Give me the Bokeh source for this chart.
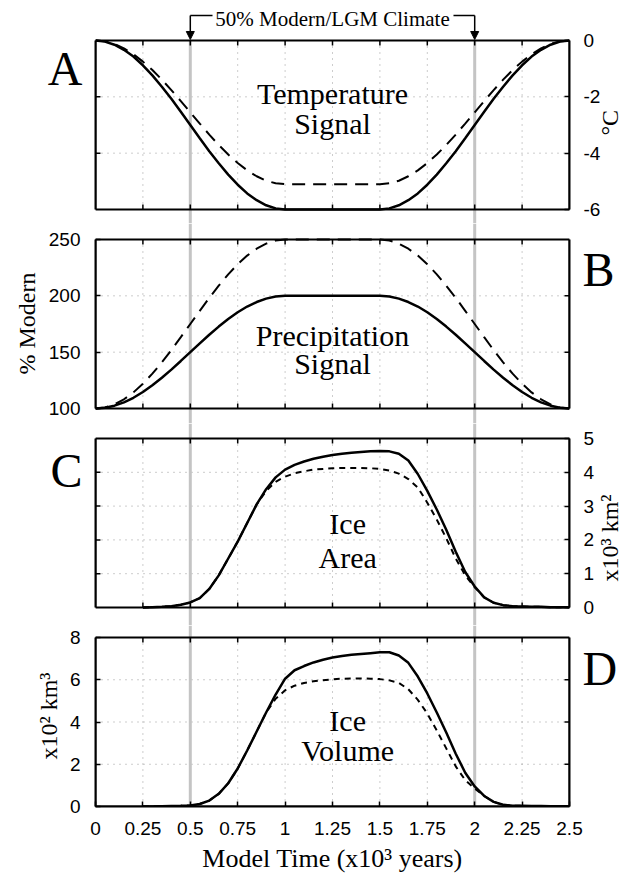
import math
from bokeh.plotting import figure
from bokeh.layouts import column
from bokeh.models import Range1d, LinearAxis, FixedTicker, Arrow, NormalHead
from bokeh.core.properties import value
from bokeh.embed import file_html
from bokeh.resources import INLINE

# ---------------- data ----------------
t_sig = [0.00, 0.05, 0.10, 0.15, 0.20, 0.25, 0.30, 0.35, 0.40, 0.45, 0.50,
         0.55, 0.60, 0.65, 0.70, 0.75, 0.80, 0.85, 0.90, 0.95, 1.00,
         1.05, 1.10, 1.15, 1.20, 1.25, 1.30, 1.35, 1.40, 1.45,
         1.50, 1.55, 1.60, 1.65, 1.70, 1.75, 1.80, 1.85, 1.90, 1.95, 2.00,
         2.05, 2.10, 2.15, 2.20, 2.25, 2.30, 2.35, 2.40, 2.45, 2.50]

temp_solid = [0.00, -0.04, -0.15, -0.33, -0.57, -0.88, -1.24, -1.64, -2.07, -2.53, -3.00,
              -3.47, -3.93, -4.36, -4.76, -5.12, -5.43, -5.67, -5.85, -5.96, -6.00,
              -6.00, -6.00, -6.00, -6.00, -6.00, -6.00, -6.00, -6.00, -6.00,
              -6.00, -5.96, -5.85, -5.67, -5.43, -5.12, -4.76, -4.36, -3.93, -3.47, -3.00,
              -2.53, -2.07, -1.64, -1.24, -0.88, -0.57, -0.33, -0.15, -0.04, 0.00]
temp_dashed = [0.00, -0.03, -0.12, -0.28, -0.49, -0.75, -1.05, -1.39, -1.76, -2.15, -2.55,
               -2.95, -3.34, -3.71, -4.05, -4.35, -4.61, -4.82, -4.98, -5.07, -5.10,
               -5.10, -5.10, -5.10, -5.10, -5.10, -5.10, -5.10, -5.10, -5.10,
               -5.10, -5.07, -4.98, -4.82, -4.61, -4.35, -4.05, -3.71, -3.34, -2.95, -2.55,
               -2.15, -1.76, -1.39, -1.05, -0.75, -0.49, -0.28, -0.12, -0.03, 0.00]
precip_solid = [100.0, 100.6, 102.5, 105.5, 109.5, 114.6, 120.6, 127.3, 134.5, 142.2, 150.0,
                157.8, 165.5, 172.7, 179.4, 185.4, 190.5, 194.5, 197.5, 199.4, 200.0,
                200.0, 200.0, 200.0, 200.0, 200.0, 200.0, 200.0, 200.0, 200.0,
                200.0, 199.4, 197.5, 194.5, 190.5, 185.4, 179.4, 172.7, 165.5, 157.8, 150.0,
                142.2, 134.5, 127.3, 120.6, 114.6, 109.5, 105.5, 102.5, 100.6, 100.0]
precip_dashed = [100.0, 100.9, 103.7, 108.2, 114.3, 122.0, 130.9, 141.0, 151.8, 163.3, 175.0,
                 186.7, 198.2, 209.0, 219.1, 228.0, 235.7, 241.8, 246.3, 249.1, 250.0,
                 250.0, 250.0, 250.0, 250.0, 250.0, 250.0, 250.0, 250.0, 250.0,
                 250.0, 249.1, 246.3, 241.8, 235.7, 228.0, 219.1, 209.0, 198.2, 186.7, 175.0,
                 163.3, 151.8, 141.0, 130.9, 122.0, 114.3, 108.2, 103.7, 100.9, 100.0]

t_ice = [0.25, 0.30, 0.35, 0.40, 0.45, 0.50, 0.55, 0.60, 0.65, 0.70, 0.75, 0.80, 0.85,
         0.90, 0.95, 1.00, 1.05, 1.10, 1.15, 1.20, 1.25, 1.30, 1.35, 1.40, 1.45, 1.50,
         1.55, 1.60, 1.65, 1.70, 1.75, 1.80, 1.85, 1.90, 1.95, 2.00, 2.05, 2.10, 2.15,
         2.20, 2.25, 2.30, 2.35, 2.40, 2.45, 2.50]
area_solid = [0.00, 0.01, 0.02, 0.04, 0.08, 0.15, 0.28, 0.55, 0.95, 1.45, 1.95, 2.50, 3.05,
              3.50, 3.85, 4.08, 4.22, 4.32, 4.40, 4.46, 4.51, 4.55, 4.58, 4.60, 4.62, 4.63,
              4.62, 4.55, 4.35, 3.95, 3.45, 2.90, 2.30, 1.65, 1.05, 0.62, 0.30, 0.14, 0.07,
              0.04, 0.03, 0.02, 0.02, 0.01, 0.01, 0.01]
area_dashed = [0.00, 0.01, 0.02, 0.04, 0.08, 0.15, 0.28, 0.55, 0.95, 1.45, 1.95, 2.50, 3.05,
               3.45, 3.72, 3.87, 3.97, 4.03, 4.08, 4.10, 4.12, 4.13, 4.13, 4.13, 4.12, 4.10,
               4.05, 3.96, 3.80, 3.55, 3.10, 2.60, 2.05, 1.45, 0.95, 0.60, 0.30, 0.14, 0.07,
               0.04, 0.03, 0.02, 0.02, 0.01, 0.01, 0.01]
vol_solid = [0.00, 0.00, 0.01, 0.02, 0.03, 0.05, 0.12, 0.28, 0.60, 1.10, 1.80, 2.65, 3.55,
             4.45, 5.30, 6.05, 6.45, 6.65, 6.82, 6.95, 7.05, 7.12, 7.18, 7.22, 7.26, 7.30,
             7.30, 7.15, 6.80, 6.15, 5.35, 4.45, 3.50, 2.50, 1.60, 0.95, 0.50, 0.22, 0.08,
             0.04, 0.03, 0.02, 0.02, 0.01, 0.01, 0.01]
vol_dashed = [0.00, 0.00, 0.01, 0.02, 0.03, 0.05, 0.12, 0.28, 0.60, 1.10, 1.80, 2.65, 3.55,
              4.45, 5.10, 5.50, 5.72, 5.85, 5.93, 5.98, 6.02, 6.05, 6.06, 6.06, 6.05, 6.03,
              5.97, 5.85, 5.55, 5.05, 4.40, 3.60, 2.75, 1.90, 1.25, 0.85, 0.50, 0.22, 0.08,
              0.04, 0.03, 0.02, 0.02, 0.01, 0.01, 0.01]

x_ticks = [0, 0.25, 0.5, 0.75, 1.0, 1.25, 1.5, 1.75, 2.0, 2.25, 2.5]
x_tick_labels = ["0", "0.25", "0.5", "0.75", "1", "1.25", "1.5", "1.75", "2", "2.25", "2.5"]

temp_ticks = [-6, -4, -2, 0]
temp_tick_labels = ["-6", "-4", "-2", "0"]
precip_ticks = [100, 150, 200, 250]
precip_tick_labels = ["100", "150", "200", "250"]
area_ticks = [0, 1, 2, 3, 4, 5]
area_tick_labels = ["0", "1", "2", "3", "4", "5"]
vol_ticks = [0, 2, 4, 6, 8]
vol_tick_labels = ["0", "2", "4", "6", "8"]

climate_marks = [0.5, 2.0]
climate_text = "50% Modern/LGM Climate"

# ---------------- layout constants (page pixels) ----------------
W = 639
LEFT, RIGHT = 95, 66
FW = W - LEFT - RIGHT
SERIF = "Liberation Serif"
SANS = "Liberation Sans"
GRAY = "#c4c4c4"
TICK_FS = "19px"


def px_to_x(page_x):
    return (page_x - LEFT) / FW * 2.5


class Info:
    pass


def make_panel(fig_top, frame_bot, fig_bot, p_top, p_bot, lo, hi):
    k = (hi - lo) / (p_bot - p_top)
    start = lo - (frame_bot - p_bot) * k
    end = hi + (p_top - fig_top) * k
    p = figure(width=W, height=fig_bot - fig_top,
               x_range=Range1d(0, 2.5), y_range=Range1d(start, end),
               min_border_left=LEFT, min_border_right=RIGHT,
               min_border_top=0, min_border_bottom=fig_bot - frame_bot,
               x_axis_location=None, y_axis_location=None,
               toolbar_location=None, output_backend="svg",
               outline_line_color=None, background_fill_color="white",
               border_fill_color="white")
    p.grid.visible = False
    info = Info()
    info.k = k
    info.start = start
    info.end = end
    info.yv = lambda page_y: round(hi - (page_y - p_top) * k, 3)
    return p, info


def decorate(p, info, lo, hi, yticks, ylabels, label_side, ylab, ylab_standoff,
             letter, letter_y, xticks_bottom=True, gray_top=None, rot_label_y=None):
    k = info.k
    inner_x = x_ticks[1:-1]
    inner_y = yticks[1:-1]
    # dotted grid
    p.segment(x0=inner_x, y0=[lo] * len(inner_x), x1=inner_x, y1=[hi] * len(inner_x),
              line_color="#9a9a9a", line_width=1, line_dash="1 5")
    p.segment(x0=[0] * len(inner_y), y0=inner_y, x1=[2.5] * len(inner_y), y1=inner_y,
              line_color="#9a9a9a", line_width=1, line_dash="1 5")
    # gray 50% lines
    gtop = info.end if gray_top is None else gray_top
    p.segment(x0=climate_marks, y0=[info.start] * 2, x1=climate_marks, y1=[gtop] * 2,
              line_color=GRAY, line_width=3)
    # tick marks on top / bottom edges
    tl = 5 * k
    p.segment(x0=inner_x, y0=[hi] * len(inner_x), x1=inner_x, y1=[hi - tl] * len(inner_x),
              line_color="black", line_width=1.5)
    if xticks_bottom:
        p.segment(x0=inner_x, y0=[lo] * len(inner_x), x1=inner_x, y1=[lo + tl] * len(inner_x),
                  line_color="black", line_width=1.5)
    # tick marks on the side that carries the panel letter
    txl = 5 / FW * 2.5
    if label_side == "right":
        p.segment(x0=[0] * len(inner_y), y0=inner_y, x1=[txl] * len(inner_y), y1=inner_y,
                  line_color="black", line_width=1.5)
    else:
        p.segment(x0=[2.5] * len(inner_y), y0=inner_y, x1=[2.5 - txl] * len(inner_y),
                  y1=inner_y, line_color="black", line_width=1.5)
    # labelled y axis
    ax = LinearAxis(bounds=(lo, hi), ticker=FixedTicker(ticks=yticks),
                    major_label_overrides=dict(zip(yticks, ylabels)),
                    major_tick_in=5, major_tick_out=0, minor_tick_line_color=None,
                    axis_line_width=2, axis_line_color="black",
                    major_tick_line_width=1.5, major_tick_line_color="black",
                    major_label_standoff=14 if label_side == "right" else 15,
                    major_label_text_font=SANS, major_label_text_font_size=TICK_FS,
                    major_label_text_color="black")
    if rot_label_y is None:
        ax.axis_label = ylab
        ax.axis_label_text_font = SERIF
        ax.axis_label_text_font_style = "normal"
        ax.axis_label_text_font_size = "24px"
        ax.axis_label_text_color = "black"
        ax.axis_label_standoff = ylab_standoff
    p.add_layout(ax, label_side)
    if rot_label_y is not None:
        # axis title (reading bottom-to-top) drawn as the rotated label of a
        # second, line-less axis; the tick sits at the start of the text
        tax = LinearAxis(ticker=FixedTicker(ticks=[rot_label_y]),
                         major_label_overrides={rot_label_y: ylab},
                         major_label_orientation=math.pi / 2,
                         axis_line_color=None, major_tick_line_color=None,
                         minor_tick_line_color=None, major_tick_in=0, major_tick_out=0,
                         major_label_standoff=ylab_standoff,
                         major_label_text_font=SERIF, major_label_text_font_size="24px",
                         major_label_text_color="black")
        p.add_layout(tax, label_side)
    # opposite axis: frame side plus panel letter
    other = "left" if label_side == "right" else "right"
    lax = LinearAxis(bounds=(lo, hi), ticker=FixedTicker(ticks=[letter_y]),
                     major_label_overrides={letter_y: letter},
                     major_tick_in=0, major_tick_out=0, major_tick_line_color=None,
                     minor_tick_line_color=None,
                     axis_line_width=2, axis_line_color="black",
                     major_label_standoff=13,
                     major_label_text_font=SERIF, major_label_text_font_size="48px",
                     major_label_text_color="black")
    p.add_layout(lax, other)


def box(p, lo, hi):
    p.quad(left=0, right=2.5, bottom=lo, top=hi, fill_color=None,
           line_color="black", line_width=2)


def inner_text(p, x, ys, texts):
    p.text(x=[x] * len(texts), y=ys, text=texts, text_font=value(SERIF),
           text_font_size="30px", text_align="center", text_baseline="middle",
           text_color="black")


# ---------------- Panel A : temperature ----------------
pA, iA = make_panel(0, 223, 223, 40, 209, -6, 0)
decorate(pA, iA, -6, 0, temp_ticks, temp_tick_labels, "right", "°C", 7,
         "A", iA.yv(68), gray_top=0, rot_label_y=iA.yv(135))
pA.line(t_sig, temp_solid, line_color="black", line_width=2.5)
pA.line(t_sig, temp_dashed, line_color="black", line_width=2, line_dash="13 8")
box(pA, -6, 0)
inner_text(pA, 1.25, [iA.yv(93), iA.yv(123)], ["Temperature", "Signal"])
# bracket annotation
yb = iA.yv(15)
ytip = iA.yv(39)
pA.segment(x0=[climate_marks[0], px_to_x(456)], y0=[yb, yb],
           x1=[px_to_x(213), climate_marks[1]], y1=[yb, yb],
           line_color="black", line_width=1.5)
for m in climate_marks:
    pA.add_layout(Arrow(end=NormalHead(size=8, fill_color="black", line_color="black"),
                        x_start=m, y_start=yb, x_end=m, y_end=ytip,
                        line_color="black", line_width=1.5))
pA.text(x=[1.25], y=[iA.yv(18)], text=[climate_text], text_font=value(SERIF),
        text_font_size="21px", text_align="center", text_baseline="middle",
        text_color="black")

# ---------------- Panel B : precipitation ----------------
pB, iB = make_panel(223, 423, 423, 239, 408, 100, 250)
decorate(pB, iB, 100, 250, precip_ticks, precip_tick_labels, "left", "% Modern", 6,
         "B", iB.yv(269))
pB.line(t_sig, precip_solid, line_color="black", line_width=2.5)
pB.line(t_sig, precip_dashed, line_color="black", line_width=2, line_dash="13 8")
box(pB, 100, 250)
inner_text(pB, 1.25, [iB.yv(335), iB.yv(363)], ["Precipitation", "Signal"])

# ---------------- Panel C : ice area ----------------
pC, iC = make_panel(423, 625, 625, 438, 607, 0, 5)
decorate(pC, iC, 0, 5, area_ticks, area_tick_labels, "right", "x10³ km²", 13,
         "C", iC.yv(470), rot_label_y=iC.yv(581))
pC.line(t_ice, area_solid, line_color="black", line_width=2.5)
pC.line(t_ice, area_dashed, line_color="black", line_width=2, line_dash="6 5")
box(pC, 0, 5)
inner_text(pC, 1.33, [iC.yv(523), iC.yv(557)], ["Ice", "Area"])

# ---------------- Panel D : ice volume ----------------
pD, iD = make_panel(625, 806, 879, 637, 806, 0, 8)
decorate(pD, iD, 0, 8, vol_ticks, vol_tick_labels, "left", "x10² km³", 5,
         "D", iD.yv(668), xticks_bottom=False)
pD.line(t_ice, vol_solid, line_color="black", line_width=2.5)
pD.line(t_ice, vol_dashed, line_color="black", line_width=2, line_dash="6 5")
box(pD, 0, 8)
inner_text(pD, 1.33, [iD.yv(720), iD.yv(750)], ["Ice", "Volume"])
xax = LinearAxis(bounds=(0, 2.5), ticker=FixedTicker(ticks=x_ticks),
                 major_label_overrides=dict(zip(x_ticks, x_tick_labels)),
                 major_tick_in=5, major_tick_out=0, minor_tick_line_color=None,
                 axis_line_width=2, axis_line_color="black", major_tick_line_width=1.5,
                 major_label_standoff=15, major_label_text_font=SANS,
                 major_label_text_font_size=TICK_FS, major_label_text_color="black",
                 axis_label="Model Time (x10³ years)", axis_label_text_font=SERIF,
                 axis_label_text_font_style="normal", axis_label_text_font_size="26px",
                 axis_label_standoff=6, axis_label_text_color="black")
pD.add_layout(xax, "below")

layout = column(pA, pB, pC, pD, spacing=0)
open("out.html", "w").write(file_html(layout, INLINE))
